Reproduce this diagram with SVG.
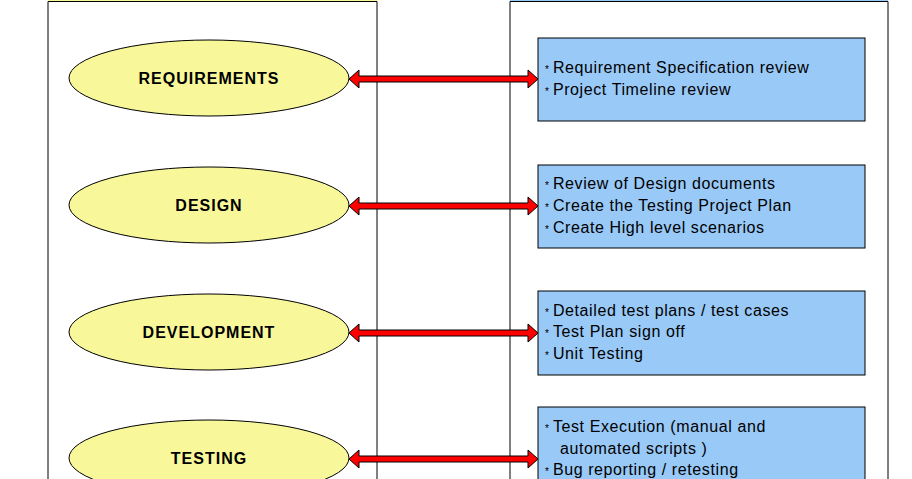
<svg xmlns="http://www.w3.org/2000/svg" width="912" height="479" viewBox="0 0 912 479">
<style>
.el{fill:#f8f89a;stroke:#000;stroke-width:1}
.bx{fill:#99c9f7;stroke:#000;stroke-width:1}
.lb{font-family:"Liberation Sans",Arial,sans-serif;font-weight:bold;font-size:16px;letter-spacing:1px;text-anchor:middle}
.tx{font-family:"Liberation Sans",Arial,sans-serif;font-size:16px;letter-spacing:0.6px}
.st{font-size:10px}
.ar{fill:#f00;stroke:#000;stroke-width:1}
</style>
<rect x="0" y="0" width="912" height="479" fill="#fff"/>
<g id="panels">
<rect x="48" y="-1" width="329" height="2.5" fill="#f8f89a"/>
<path d="M48 479V1.5H377V479" fill="none" stroke="#000"/>
<rect x="510" y="-1" width="378" height="2.5" fill="#99c9f7"/>
<path d="M510 479V1.5H888V479" fill="none" stroke="#000"/>
</g>
<g id="connectors">
<path class="ar" d="M349 79l10-9v6h169v-6l10 9-10 9v-6H359v6z"/>
<path class="ar" d="M349 206l10-9v6h169v-6l10 9-10 9v-6H359v6z"/>
<path class="ar" d="M349 333l10-9v6h169v-6l10 9-10 9v-6H359v6z"/>
<path class="ar" d="M349 459l10-9v6h169v-6l10 9-10 9v-6H359v6z"/>
</g>
<g id="requirements"><ellipse class="el" cx="209" cy="78" rx="140" ry="38"/><text class="lb" x="209" y="84">REQUIREMENTS</text></g>
<g id="design"><ellipse class="el" cx="209" cy="205" rx="140" ry="38"/><text class="lb" x="209" y="211">DESIGN</text></g>
<g id="development"><ellipse class="el" cx="209" cy="332" rx="140" ry="38"/><text class="lb" x="209" y="338">DEVELOPMENT</text></g>
<g id="testing"><ellipse class="el" cx="209" cy="458" rx="140" ry="38"/><text class="lb" x="209" y="464">TESTING</text></g>
<g id="box1"><rect class="bx" x="538" y="38" width="327" height="83"/>
<text class="tx" x="545" y="73"><tspan class="st">* </tspan>Requirement Specification review</text>
<text class="tx" x="545" y="95"><tspan class="st">* </tspan>Project Timeline review</text></g>
<g id="box2"><rect class="bx" x="538" y="165" width="327" height="83"/>
<text class="tx" x="545" y="189"><tspan class="st">* </tspan>Review of Design documents</text>
<text class="tx" x="545" y="211"><tspan class="st">* </tspan>Create the Testing Project Plan</text>
<text class="tx" x="545" y="233"><tspan class="st">* </tspan>Create High level scenarios</text></g>
<g id="box3"><rect class="bx" x="538" y="291" width="327" height="84"/>
<text class="tx" x="545" y="316"><tspan class="st">* </tspan>Detailed test plans / test cases</text>
<text class="tx" x="545" y="337"><tspan class="st">* </tspan>Test Plan sign off</text>
<text class="tx" x="545" y="359"><tspan class="st">* </tspan>Unit Testing</text></g>
<g id="box4"><rect class="bx" x="538" y="407" width="327" height="90"/>
<text class="tx" x="545" y="432"><tspan class="st">* </tspan>Test Execution (manual and</text>
<text class="tx" x="560" y="454">automated scripts )</text>
<text class="tx" x="545" y="475"><tspan class="st">* </tspan>Bug reporting / retesting</text></g>
</svg>
